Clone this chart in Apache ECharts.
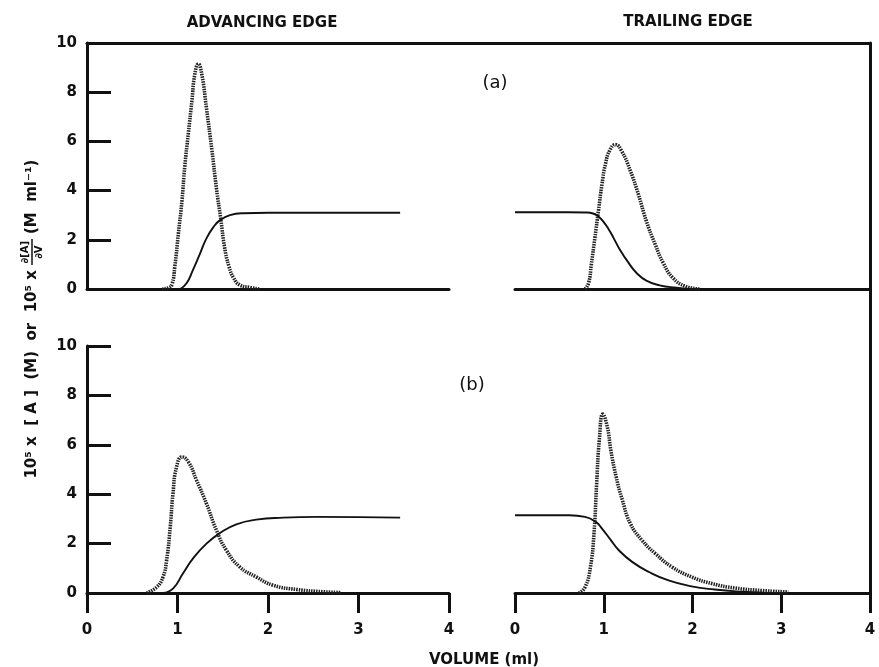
<!DOCTYPE html>
<html>
<head>
<meta charset="utf-8">
<script src="https://cdn.jsdelivr.net/npm/echarts@6/dist/echarts.min.js"></script>
<style>
html,body{margin:0;padding:0;background:#fff;}
#chart{width:879px;height:667px;}
</style>
</head>
<body>
<div id="chart"></div>
<script>
// ---- data (volume ml, value) ----
var xTicks = [0, 1, 2, 3, 4];
var yTicks = [0, 2, 4, 6, 8, 10];

// (a) advancing edge
var advA_conc = [[1.03,0],[1.10,0.23],[1.17,0.77],[1.25,1.45],[1.32,2.06],[1.40,2.53],[1.47,2.8],[1.58,3.0],[1.73,3.08],[2.0,3.1],[3.46,3.1]];
var advA_deriv = [[0.83,0],[0.90,0.05],[0.94,0.2],[0.97,0.9],[1.01,2.26],[1.05,3.62],[1.08,4.97],[1.12,6.33],[1.16,7.68],[1.19,8.7],[1.23,9.15],[1.27,8.7],[1.32,7.35],[1.38,5.65],[1.43,4.1],[1.48,2.8],[1.52,1.7],[1.57,0.9],[1.62,0.45],[1.69,0.16],[1.80,0.06],[1.91,0]];

// (a) trailing edge
var trlA_conc = [[0,3.12],[0.6,3.12],[0.8,3.11],[0.88,3.07],[0.94,2.95],[1.0,2.72],[1.06,2.4],[1.11,2.08],[1.18,1.61],[1.28,1.06],[1.37,0.65],[1.48,0.34],[1.63,0.15],[1.82,0.05],[1.97,0]];
var trlA_deriv = [[0.79,0],[0.83,0.25],[0.86,1.0],[0.90,2.08],[0.94,3.17],[0.98,4.26],[1.02,5.1],[1.07,5.65],[1.13,5.87],[1.20,5.62],[1.30,4.8],[1.39,3.85],[1.48,2.76],[1.58,1.81],[1.67,1.06],[1.78,0.45],[1.92,0.11],[2.08,0]];

// (b) advancing edge
var advB_conc = [[0.84,0],[0.95,0.18],[1.06,0.79],[1.17,1.39],[1.32,2.0],[1.47,2.43],[1.65,2.78],[1.87,2.97],[2.17,3.05],[2.54,3.08],[3.46,3.05]];
var advB_deriv = [[0.66,0],[0.77,0.24],[0.84,0.65],[0.88,1.33],[0.92,2.68],[0.95,4.03],[0.99,5.11],[1.05,5.51],[1.12,5.31],[1.21,4.57],[1.32,3.62],[1.43,2.54],[1.54,1.73],[1.69,1.05],[1.87,0.65],[2.06,0.31],[2.32,0.14],[2.61,0.05],[2.8,0.02]];

// (b) trailing edge
var trlB_conc = [[0,3.15],[0.61,3.15],[0.79,3.08],[0.91,2.88],[0.98,2.61],[1.08,2.14],[1.17,1.73],[1.32,1.26],[1.51,0.85],[1.73,0.51],[1.99,0.27],[2.25,0.14],[2.55,0.05],[2.8,0.01]];
var trlB_deriv = [[0.72,0],[0.79,0.24],[0.85,1.05],[0.89,2.41],[0.92,4.43],[0.95,6.19],[0.99,7.24],[1.04,6.73],[1.08,5.78],[1.14,4.7],[1.21,3.76],[1.30,2.81],[1.43,2.14],[1.58,1.6],[1.77,1.05],[1.99,0.65],[2.22,0.38],[2.48,0.2],[2.78,0.1],[3.08,0.04]];

// ---- styling ----
var INK = '#111';
var FONT = '"DejaVu Sans", "Liberation Sans", Arial, sans-serif';
var AX_W = 3;

function xAxisDef(gi, withTicks) {
  return {
    type: 'value', gridIndex: gi, min: xTicks[0], max: xTicks[xTicks.length-1], interval: 1,
    axisLine: {show: true, onZero: false, lineStyle: {color: INK, width: AX_W}},
    axisTick: {show: withTicks, inside: false, length: 20, lineStyle: {color: INK, width: AX_W}},
    axisLabel: {show: withTicks, margin: 30, color: INK, fontFamily: FONT, fontWeight: 'bold', fontSize: 15},
    splitLine: {show: false}
  };
}
function yAxisDef(gi, visible) {
  return {
    type: 'value', gridIndex: gi, min: yTicks[0], max: yTicks[yTicks.length-1], interval: 2,
    show: visible,
    axisLine: {show: true, onZero: false, lineStyle: {color: INK, width: AX_W}},
    axisTick: {show: true, inside: true, length: 24, lineStyle: {color: INK, width: AX_W}},
    axisLabel: {show: true, margin: 10, color: INK, fontFamily: FONT, fontWeight: 'bold', fontSize: 15},
    splitLine: {show: false}
  };
}
function solid(gi, data) {
  return {type: 'line', xAxisIndex: gi, yAxisIndex: gi, data: data, showSymbol: false, symbol: 'none',
    smooth: 0.5, silent: true,
    lineStyle: {color: INK, width: 1.9, type: 'solid'}, z: 3};
}
function dotted(gi, data) {
  return {type: 'line', xAxisIndex: gi, yAxisIndex: gi, data: data, showSymbol: false, symbol: 'none',
    smooth: 0.5, silent: true,
    lineStyle: {color: '#222', width: 3.6, type: [1.5, 1]}, z: 2};
}

var chart = echarts.init(document.getElementById('chart'), null, {renderer: 'canvas'});
chart.setOption({
  animation: false,
  backgroundColor: '#fff',
  grid: [
    {left: 87, top: 43, width: 362, height: 246},
    {left: 515, top: 43, width: 355, height: 246},
    {left: 87, top: 346, width: 362, height: 247},
    {left: 515, top: 346, width: 355, height: 247},
    {left: 87, top: 43, right: 9, bottom: 74}
  ],
  xAxis: [
    xAxisDef(0, false), xAxisDef(1, false), xAxisDef(2, true), xAxisDef(3, true),
    {type: 'value', gridIndex: 4, position: 'top', min: 0, max: 1,
     axisLine: {show: true, onZero: false, lineStyle: {color: INK, width: AX_W}}, axisTick: {show: false}, axisLabel: {show: false}, splitLine: {show: false}}
  ],
  yAxis: [
    yAxisDef(0, true), yAxisDef(1, false), yAxisDef(2, true), yAxisDef(3, false),
    {type: 'value', gridIndex: 4, position: 'right', min: 0, max: 1,
     axisLine: {show: true, onZero: false, lineStyle: {color: INK, width: AX_W}}, axisTick: {show: false}, axisLabel: {show: false}, splitLine: {show: false}}
  ],
  series: [
    solid(0, advA_conc), dotted(0, advA_deriv),
    solid(1, trlA_conc), dotted(1, trlA_deriv),
    solid(2, advB_conc), dotted(2, advB_deriv),
    solid(3, trlB_conc), dotted(3, trlB_deriv)
  ],
  graphic: [
    {type: 'text', x: 262, y: 23, style: {text: 'ADVANCING EDGE', fill: INK, font: 'bold 15px ' + FONT, textAlign: 'center', textVerticalAlign: 'middle'}},
    {type: 'text', x: 688, y: 22, style: {text: 'TRAILING EDGE', fill: INK, font: 'bold 15px ' + FONT, textAlign: 'center', textVerticalAlign: 'middle'}},
    {type: 'text', x: 495, y: 83, style: {text: '(a)', fill: INK, font: '18px ' + FONT, textAlign: 'center', textVerticalAlign: 'middle'}},
    {type: 'text', x: 472, y: 385, style: {text: '(b)', fill: INK, font: '18px ' + FONT, textAlign: 'center', textVerticalAlign: 'middle'}},
    {type: 'text', x: 484, y: 660, style: {text: 'VOLUME (ml)', fill: INK, font: 'bold 15px ' + FONT, textAlign: 'center', textVerticalAlign: 'middle'}},
    {type: 'group', x: 32, y: 478, rotation: Math.PI / 2, children: [
      {type: 'text', x: 208, y: 0, style: {text: '10⁵ x  [ A ]  (M)  or  10⁵ x', fill: INK, font: 'bold 15px ' + FONT, textAlign: 'right', textVerticalAlign: 'middle'}},
      {type: 'text', x: 226, y: -7, style: {text: '∂[A]', fill: INK, font: 'bold 10px ' + FONT, textAlign: 'center', textVerticalAlign: 'middle'}},
      {type: 'line', shape: {x1: 213, y1: 0, x2: 239, y2: 0}, style: {stroke: INK, lineWidth: 1.5}},
      {type: 'text', x: 226, y: 7, style: {text: '∂V', fill: INK, font: 'bold 10px ' + FONT, textAlign: 'center', textVerticalAlign: 'middle'}},
      {type: 'text', x: 244, y: 0, style: {text: '(M  ml⁻¹)', fill: INK, font: 'bold 15px ' + FONT, textAlign: 'left', textVerticalAlign: 'middle'}}
    ]}
  ]
});
</script>
</body>
</html>
